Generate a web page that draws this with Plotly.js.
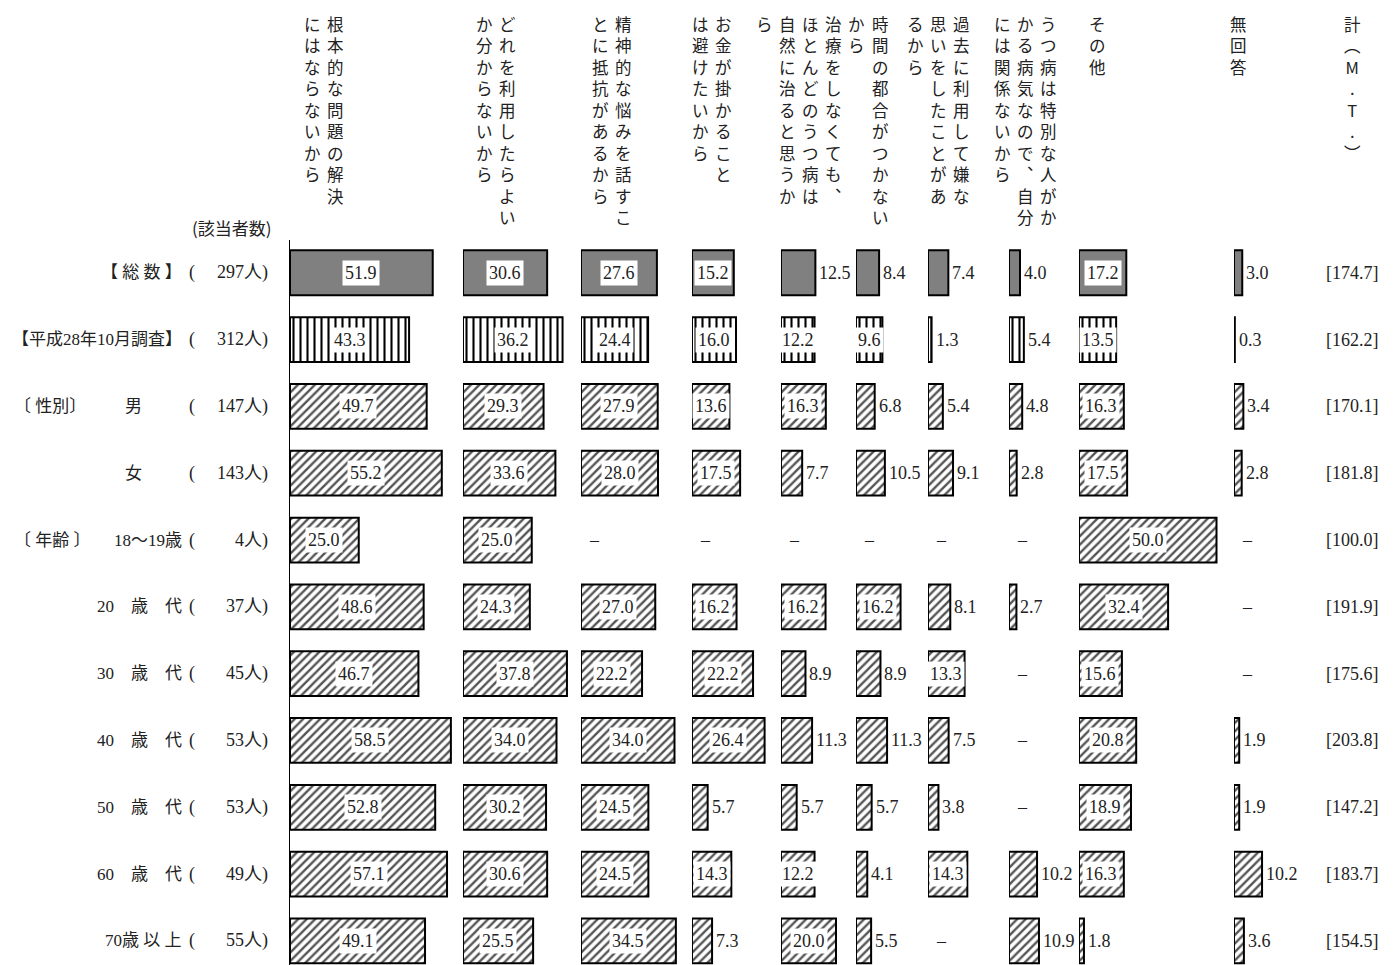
<!DOCTYPE html>
<html>
<head>
<meta charset="utf-8">
<script src="https://cdn.plot.ly/plotly-3.0.1.min.js"></script>
<style>
  body { margin: 0; background: #fff; }
  #chart { width: 1400px; height: 965px; }
</style>
</head>
<body>
<div id="chart"></div>
<script>
// 行（回答者の区分）
const rows = ['【 総 数 】', '【平成28年10月調査】', '男', '女', '18～19歳',
  '20　歳　代', '30　歳　代', '40　歳　代', '50　歳　代', '60　歳　代', '70歳 以 上'];
const groupLabels = ['', '', '〔 性別〕', '', '〔 年齢 〕', '', '', '', '', '', ''];
const counts = [297, 312, 147, 143, 4, 37, 45, 53, 53, 49, 55];

// 列見出し（縦書き、右の行から順に）
const headers = [
  ['根本的な問題の解決', 'にはならないから'],
  ['どれを利用したらよい', 'か分からないから'],
  ['精神的な悩みを話すこ', 'とに抵抗があるから'],
  ['お金が掛かること', 'は避けたいから'],
  ['治療をしなくても、', 'ほとんどのうつ病は', '自然に治ると思うか', 'ら'],
  ['時間の都合がつかない', 'から'],
  ['過去に利用して嫌な', '思いをしたことがあ', 'るから'],
  ['うつ病は特別な人がか', 'かる病気なので、自分', 'には関係ないから'],
  ['その他'],
  ['無回答'],
  ['計（M.T.）']
];

// 各列の値（％）、null は「－」
const kaiketsu  = [51.9, 43.3, 49.7, 55.2, 25.0, 48.6, 46.7, 58.5, 52.8, 57.1, 49.1];
const wakaranai = [30.6, 36.2, 29.3, 33.6, 25.0, 24.3, 37.8, 34.0, 30.2, 30.6, 25.5];
const teikou    = [27.6, 24.4, 27.9, 28.0, null, 27.0, 22.2, 34.0, 24.5, 24.5, 34.5];
const okane     = [15.2, 16.0, 13.6, 17.5, null, 16.2, 22.2, 26.4, 5.7, 14.3, 7.3];
const shizen    = [12.5, 12.2, 16.3, 7.7, null, 16.2, 8.9, 11.3, 5.7, 12.2, 20.0];
const jikan     = [8.4, 9.6, 6.8, 10.5, null, 16.2, 8.9, 11.3, 5.7, 4.1, 5.5];
const kako      = [7.4, 1.3, 5.4, 9.1, null, 8.1, 13.3, 7.5, 3.8, 14.3, null];
const tokubetsu = [4.0, 5.4, 4.8, 2.8, null, 2.7, null, null, null, 10.2, 10.9];
const sonota    = [17.2, 13.5, 16.3, 17.5, 50.0, 32.4, 15.6, 20.8, 18.9, 16.3, 1.8];
const mukaitou  = [3.0, 0.3, 3.4, 2.8, null, null, null, 1.9, 1.9, 10.2, 3.6];
const totals    = [174.7, 162.2, 170.1, 181.8, 100.0, 191.9, 175.6, 203.8, 147.2, 183.7, 154.5];

const cols = [kaiketsu, wakaranai, teikou, okane, shizen, jikan, kako, tokubetsu, sonota, mukaitou];

// レイアウト（ピクセル）
const W = 1400, H = 965;
const starts = [290, 463, 581, 692, 781, 856, 928, 1009, 1079, 1234];
const ends = starts.slice(1).concat([1318]);
const PX_PER = 2.75;
const headX = [335, 507, 623, 723, 833, 880, 961, 1048, 1097, 1238, 1352];
const px = x => x / W;
const py = y => 1 - y / H;

const serif = 'Liberation Serif, Noto Sans CJK JP';
const jp = 'Noto Sans CJK JP';
const txt = '#222';

// 行グループごとの塗り： 総数=灰色、前回調査=縦線、その他=斜線
const styles = [
  {from: 0, to: 1, marker: {color: '#808080'}},
  {from: 1, to: 2, marker: {color: '#fff', pattern: {shape: '|', fgcolor: '#000', bgcolor: '#fff', size: 7, solidity: 0.3}}},
  {from: 2, to: 11, marker: {color: '#fff', pattern: {shape: '/', fgcolor: '#555', bgcolor: '#fff', size: 6, solidity: 0.4}}}
];

// ラベルを棒の中に置くか
function inside(row, col, v) {
  if (row === 0 && col === 4) return false;
  if (row === 1 && col === 5) return true;
  return v >= 12;
}

const traces = [];
const annotations = [];
const layout = {
  width: W, height: H,
  margin: {l: 0, r: 0, t: 0, b: 0},
  paper_bgcolor: '#fff', plot_bgcolor: 'rgba(0,0,0,0)',
  showlegend: false, hovermode: false,
  font: {family: serif, size: 17, color: txt},
  yaxis: {
    type: 'category', categoryorder: 'array', categoryarray: rows,
    domain: [0, py(240)], range: [10.36, -0.49],
    showticklabels: false, ticks: '', showgrid: false, zeroline: false,
    showline: true, linecolor: '#000', linewidth: 1.5, anchor: 'x', fixedrange: true
  },
  annotations: annotations
};

cols.forEach((vals, c) => {
  const ax = c === 0 ? '' : String(c + 1);
  styles.forEach(st => {
    traces.push({
      type: 'bar', orientation: 'h',
      x: vals.slice(st.from, st.to), y: rows.slice(st.from, st.to),
      xaxis: 'x' + ax, yaxis: 'y', width: 0.67, hoverinfo: 'skip',
      marker: Object.assign({line: {color: '#000', width: 2}}, st.marker)
    });
  });
  layout['xaxis' + ax] = {
    domain: [px(starts[c]), px(ends[c])],
    range: [0, (ends[c] - starts[c]) / PX_PER],
    visible: false, fixedrange: true, anchor: 'y'
  };
  vals.forEach((v, r) => {
    const base = {xref: 'x' + ax, yref: 'y', y: rows[r], showarrow: false,
      font: {family: serif, size: 18, color: txt}};
    if (v === null) {
      annotations.push(Object.assign(base, {x: 0, xanchor: 'left', xshift: 6, text: '–'}));
    } else if (inside(r, c, v)) {
      annotations.push(Object.assign(base, {x: v / 2, xanchor: 'center', text: v.toFixed(1),
        bgcolor: '#fff', borderpad: 2}));
    } else {
      annotations.push(Object.assign(base, {x: v, xanchor: 'left', xshift: 2, text: v.toFixed(1)}));
    }
  });
});

// 列見出し
const vert = ch => ({'、': '︑', '（': '︵', '）': '︶'}[ch] || ch);
headers.forEach((lines, c) => {
  lines.forEach((line, k) => {
    annotations.push({
      xref: 'paper', yref: 'paper', x: px(headX[c] - k * 23), y: py(10),
      xanchor: 'center', yanchor: 'top', showarrow: false, align: 'center',
      text: Array.from(line).map(vert).join('<br>'),
      font: {family: jp, size: 16.5, color: txt}
    });
  });
});

annotations.push({xref: 'paper', yref: 'paper', x: px(232), y: py(228), xanchor: 'center', yanchor: 'middle',
  showarrow: false, text: '(該当者数)', font: {family: jp, size: 17, color: txt}});

// 行ラベル
rows.forEach((name, r) => {
  const nameRight = (r === 2 || r === 3) ? 144 : 184;
  annotations.push({xref: 'paper', yref: 'y', x: px(nameRight), y: name, xanchor: 'right',
    showarrow: false, text: name, font: {family: serif, size: 17, color: txt}});
  if (groupLabels[r]) {
    annotations.push({xref: 'paper', yref: 'y', x: px(12), y: name, xanchor: 'left',
      showarrow: false, text: groupLabels[r], font: {family: serif, size: 17, color: txt}});
  }
  annotations.push({xref: 'paper', yref: 'y', x: px(187), y: name, xanchor: 'left',
    showarrow: false, text: '(', font: {family: serif, size: 18, color: txt}});
  annotations.push({xref: 'paper', yref: 'y', x: px(270), y: name, xanchor: 'right',
    showarrow: false, text: counts[r] + '人)', font: {family: serif, size: 18, color: txt}});
  annotations.push({xref: 'paper', yref: 'y', x: px(1352), y: name, xanchor: 'center',
    showarrow: false, text: '[' + totals[r].toFixed(1) + ']', font: {family: serif, size: 18, color: txt}});
});

Plotly.newPlot('chart', traces, layout, {displayModeBar: false, staticPlot: true});
</script>
</body>
</html>
